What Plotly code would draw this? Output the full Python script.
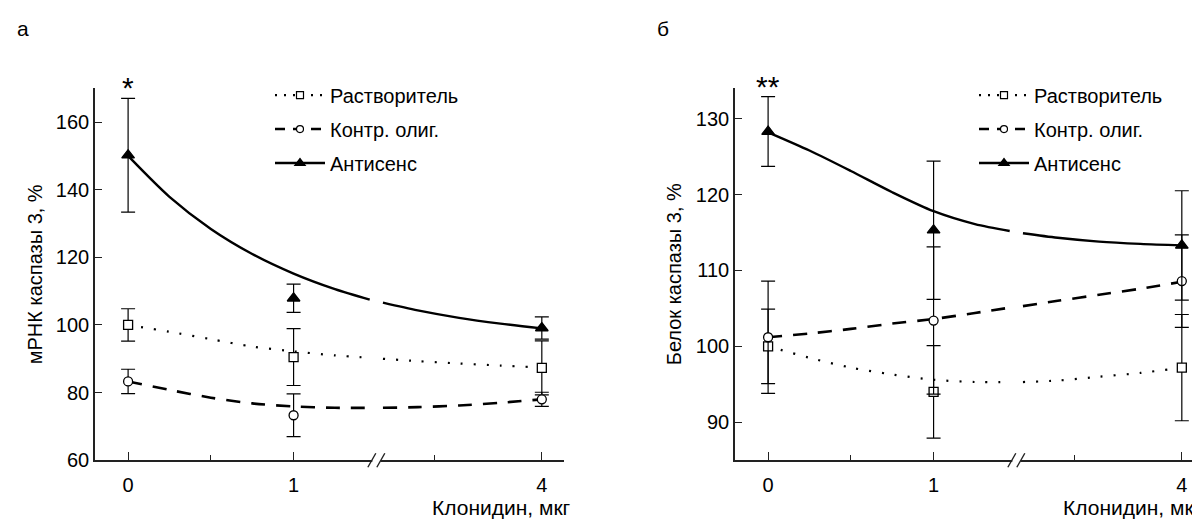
import plotly.graph_objects as go

# ---------------- data ----------------
doses = ["0", "1", "4"]
series_names = ["Растворитель", "Контр. олиг.", "Антисенс"]

# panel а: mRNA caspase-3, %
veh_a = [100.0, 90.5, 87.3]
veh_a_err = [4.8, 8.4, 8.0]
ctrl_a = [83.3, 73.3, 78.0]
ctrl_a_err = [3.6, 6.3, 2.1]
anti_a = [150.2, 107.9, 99.1]
anti_a_err = [16.8, 4.2, 3.3]

# panel б: protein caspase-3, %
veh_b = [100.0, 94.0, 97.2]
veh_b_err = [4.9, 6.1, 7.0]
ctrl_b = [101.2, 103.4, 108.6]
ctrl_b_err = [7.4, 9.7, 6.1]
anti_b = [128.3, 115.3, 113.3]
anti_b_err = [4.6, 9.1, 7.2]

# trend curves, read along the broken dose axis (None = break gap)
curve_pos = [0, 0.25, 0.5, 0.75, 1, 1.25, 1.46, 1.5, 1.54, 1.75, 2, 2.25, 2.5]
veh_a_curve = [100, 98, 95.8, 93.6, 92.2, 91, 90.3, None, 90.0, 89.3, 88.6, 88, 87.4]
ctrl_a_curve = [83.3, 80.8, 78.5, 76.8, 75.9, 75.5, 75.5, None, 75.5, 75.7, 76.2, 77, 78]
anti_a_curve = [150, 137.9, 128.4, 121.0, 115.2, 110.6, 107.5, None, 106.6, 104.3, 102.1, 100.4, 99.0]
veh_b_curve = [100, 98.5, 97.2, 96.3, 95.6, 95.3, 95.3, None, 95.3, 95.5, 96, 96.5, 97.2]
ctrl_b_curve = [101.2, 101.7, 102.3, 103.0, 103.6, 104.4, 105.1, None, 105.3, 106, 106.8, 107.6, 108.5]
anti_b_curve = [128.2, 125.8, 123.1, 120.3, 117.8, 116.1, 115.2, None, 114.9, 114.3, 113.8, 113.5, 113.3]

# broken-axis scale: dose label -> axis position
axis_pos = {"0": 0, "1": 1, "4": 2.5}
break_pos = 1.5
minor_pos = [0.5, 1.85]

# ---------------- styles ----------------
FONT = "Liberation Sans, Arial, sans-serif"
styles = {
    "Растворитель": dict(dash="2px,11px", width=2.2, symbol="square", size=9),
    "Контр. олиг.": dict(dash="14px,11px", width=2.6, symbol="circle", size=9),
    "Антисенс": dict(dash="solid", width=2.4, symbol="triangle-up", size=11),
}
legend_dash = {"Растворитель": "2px,7px", "Контр. олиг.": "10px,8px", "Антисенс": "solid"}

fig = go.Figure()
xs = [axis_pos[d] for d in doses]

panels = [
    ("x", "y", "legend", [veh_a, ctrl_a, anti_a], [veh_a_err, ctrl_a_err, anti_a_err],
     [veh_a_curve, ctrl_a_curve, anti_a_curve]),
    ("x2", "y2", "legend2", [veh_b, ctrl_b, anti_b], [veh_b_err, ctrl_b_err, anti_b_err],
     [veh_b_curve, ctrl_b_curve, anti_b_curve]),
]

for xa, ya, leg, means, errs, curves in panels:
    for name, curve in zip(series_names, curves):
        st = styles[name]
        fig.add_trace(go.Scatter(
            x=curve_pos, y=curve, mode="lines", xaxis=xa, yaxis=ya,
            line=dict(color="black", width=st["width"], dash=st["dash"], shape="spline", smoothing=0.8),
            connectgaps=False, showlegend=False, hoverinfo="skip"))
    for name, m, e in zip(series_names, means, errs):
        st = styles[name]
        filled = name == "Антисенс"
        fig.add_trace(go.Scatter(
            x=xs, y=m, mode="markers", xaxis=xa, yaxis=ya, name=name, showlegend=False,
            error_y=dict(type="data", array=e, visible=True, color="black", thickness=1.2, width=7),
            marker=dict(symbol=st["symbol"], size=st["size"],
                        color="black" if filled else "white",
                        line=dict(color="black", width=1.3))))
    for name in series_names:
        st = styles[name]
        filled = name == "Антисенс"
        fig.add_trace(go.Scatter(
            x=[None], y=[None], mode="lines+markers", xaxis=xa, yaxis=ya, name=name,
            legend=leg, legendgroup=leg + name, showlegend=True,
            line=dict(color="black", width=st["width"], dash=legend_dash[name]),
            marker=dict(symbol=st["symbol"], size=st["size"] - 2,
                        color="black" if filled else "white",
                        line=dict(color="black", width=1.2))))

axis_common = dict(showline=True, linecolor="#222", linewidth=1.6, showgrid=False, zeroline=False,
                   tickfont=dict(family=FONT, size=20, color="black"), tickcolor="#222")

xaxis_common = dict(axis_common, range=[-0.2, 2.634], tickvals=[axis_pos[d] for d in doses], ticktext=doses,
                    ticks="inside", ticklen=8, tickwidth=1.2, ticklabelstandoff=6,
                    minor=dict(tickvals=minor_pos, ticks="inside", ticklen=5, tickwidth=1.2, tickcolor="#222"))

ydom = [58 / 520, 438 / 520]
legend_common = dict(xanchor="left", yanchor="top", bgcolor="rgba(0,0,0,0)",
                     font=dict(family=FONT, size=20), tracegroupgap=5, itemwidth=50)
fig.update_layout(
    width=1200, height=520, margin=dict(l=0, r=0, t=0, b=0),
    paper_bgcolor="white", plot_bgcolor="white",
    font=dict(family=FONT, size=20, color="black"),
    xaxis=dict(xaxis_common, domain=[87 / 1200, 556 / 1200], anchor="y"),
    yaxis=dict(axis_common, domain=ydom, range=[60, 170], tickvals=[60, 80, 100, 120, 140, 160],
               ticks="inside", ticklen=7, tickwidth=1.2, anchor="x"),
    xaxis2=dict(xaxis_common, domain=[727 / 1200, 1196 / 1200], anchor="y2"),
    yaxis2=dict(axis_common, domain=ydom, range=[85, 134], tickvals=[90, 100, 110, 120, 130],
                ticks="inside", ticklen=7, tickwidth=1.2, anchor="x2"),
    legend=dict(legend_common, x=262 / 1200, y=1 - 69 / 520),
    legend2=dict(legend_common, x=966 / 1200, y=1 - 69 / 520),
    showlegend=True,
)

ann = []
ann.append(dict(text="а", x=15 / 1200, y=1 - 21 / 520, xref="paper", yref="paper", xanchor="center",
                yanchor="middle", showarrow=False, font=dict(family=FONT, size=21)))
ann.append(dict(text="б", x=655 / 1200, y=1 - 21 / 520, xref="paper", yref="paper", xanchor="center",
                yanchor="middle", showarrow=False, font=dict(family=FONT, size=21)))
ymid = (ydom[0] + ydom[1]) / 2
ann.append(dict(text="мРНК каспазы 3, %", x=27 / 1200, y=ymid, xref="paper", yref="paper",
                xanchor="center", yanchor="middle", textangle=-90, showarrow=False,
                font=dict(family=FONT, size=20)))
ann.append(dict(text="Белок каспазы 3, %", x=666 / 1200, y=ymid, xref="paper", yref="paper",
                xanchor="center", yanchor="middle", textangle=-90, showarrow=False,
                font=dict(family=FONT, size=20)))
for xr in ["x domain", "x2 domain"]:
    ann.append(dict(text="Клонидин, мкг", x=1.02 if xr == "x domain" else 1.0, y=1 - 510 / 520, xref=xr,
                    yref="paper", xanchor="right", yanchor="middle", showarrow=False,
                    font=dict(family=FONT, size=21)))
ann.append(dict(text="*", x=axis_pos["0"], y=anti_a[0] + anti_a_err[0], xref="x", yref="y", xanchor="center",
                yanchor="bottom", showarrow=False, yshift=-8, font=dict(family=FONT, size=30)))
ann.append(dict(text="**", x=axis_pos["0"], y=anti_b[0] + anti_b_err[0], xref="x2", yref="y2",
                xanchor="center", yanchor="bottom", showarrow=False, yshift=-8, font=dict(family=FONT, size=30)))
fig.update_layout(annotations=ann)

# axis-break marks "//" on both x axes
shapes = []
for xr, yr in [("x", "y domain"), ("x2", "y2 domain")]:
    shapes.append(dict(type="rect", xref=xr, yref=yr, xsizemode="pixel", ysizemode="pixel",
                       xanchor=break_pos, yanchor=0, x0=-4, x1=4, y0=-3, y1=3,
                       fillcolor="white", line=dict(width=0), layer="above"))
    for off in (-4.5, 4.5):
        shapes.append(dict(type="line", xref=xr, yref=yr, xsizemode="pixel", ysizemode="pixel",
                           xanchor=break_pos, yanchor=0, x0=off - 4, x1=off + 4, y0=-7, y1=7,
                           line=dict(color="#222", width=1.4), layer="above"))
fig.update_layout(shapes=shapes)

fig.write_html("out.html")
